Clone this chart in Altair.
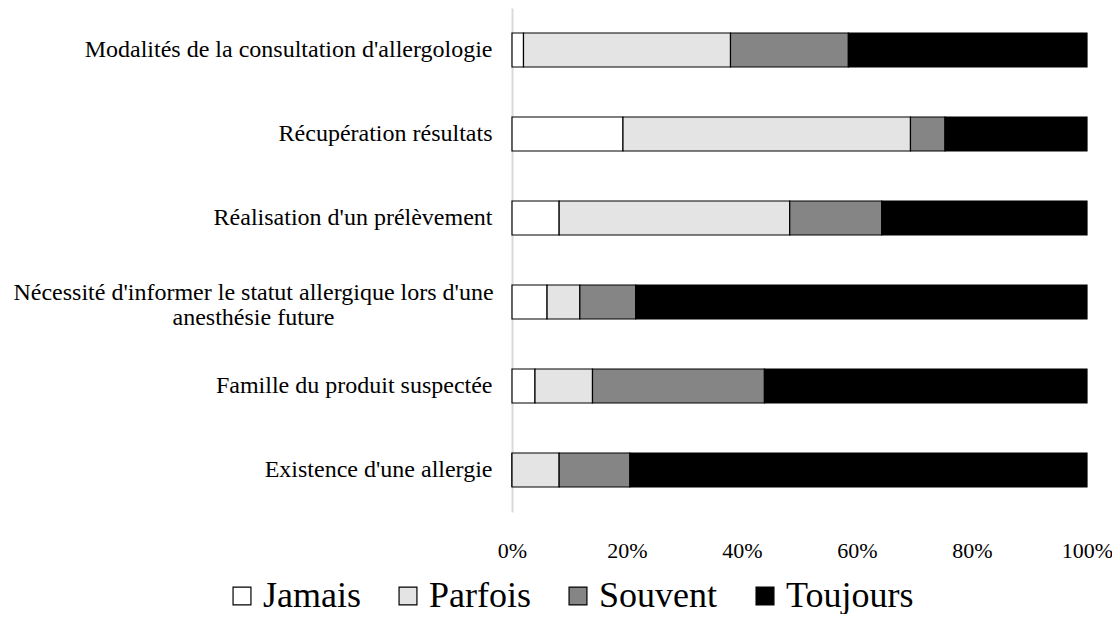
import altair as alt
import pandas as pd

categories = [
    "Modalités de la consultation d'allergologie",
    "Récupération résultats",
    "Réalisation d'un prélèvement",
    "Nécessité d'informer le statut allergique lors d'une|anesthésie future",
    "Famille du produit suspectée",
    "Existence d'une allergie",
]
series = ["Jamais", "Parfois", "Souvent", "Toujours"]
jamais = [2.0, 19.3, 8.2, 6.1, 4.0, 0.0]
parfois = [36.0, 50.0, 40.1, 5.7, 10.0, 8.2]
souvent = [20.5, 6.0, 16.0, 9.7, 29.9, 12.3]
toujours = [41.5, 24.7, 35.7, 78.5, 56.1, 79.5]
colors = ["#ffffff", "#e4e4e4", "#858585", "#000000"]

rows = []
for i, c in enumerate(categories):
    for k, (s, vals) in enumerate(zip(series, [jamais, parfois, souvent, toujours])):
        rows.append({"cat": c, "serie": s, "val": vals[i], "ord": k})
df = pd.DataFrame(rows)

font = "Liberation Serif"
multi = "indexof(datum.value, '|') >= 0"

chart = alt.Chart(df).mark_bar(size=34, stroke="black", strokeWidth=1.2).encode(
    x=alt.X("val:Q", stack="normalize",
            scale=alt.Scale(domain=[0, 1], nice=False),
            axis=alt.Axis(format="%", values=[0, 0.2, 0.4, 0.6, 0.8, 1.0], title=None,
                          grid=False, ticks=False, domain=False, labelPadding=28,
                          labelFlush=False,
                          labelFontSize=22, labelFont=font, labelColor="#000000")),
    y=alt.Y("cat:N", sort=categories, title=None,
            scale=alt.Scale(paddingInner=0, paddingOuter=0),
            axis=alt.Axis(labelExpr="split(datum.value, '|')", ticks=False, domain=True,
                          domainColor="#d9d9d9", domainWidth=2,
                          labelPadding={"condition": {"test": multi, "value": 259}, "value": 20},
                          labelAlign={"condition": {"test": multi, "value": "center"}, "value": "right"},
                          labelOffset={"condition": {"test": multi, "value": -9}, "value": 0},
                          labelFontSize=24, labelFont=font, labelColor="#000000",
                          labelLimit=600, labelLineHeight=25)),
    fill=alt.Fill("serie:N", sort=series,
                  scale=alt.Scale(domain=series, range=colors),
                  legend=alt.Legend(orient="none", legendX=-288, legendY=570, direction="horizontal",
                                    title=None, symbolType="square", symbolSize=320,
                                    symbolStrokeColor="black", symbolStrokeWidth=1.2,
                                    labelFontSize=36, labelFont=font, labelColor="#000000",
                                    columnPadding=29, labelOffset=3, labelLimit=300)),
    order=alt.Order("ord:Q"),
).properties(
    width=575, height=504,
    autosize=alt.AutoSizeParams(type="none"),
    padding={"left": 504, "top": 0, "right": 25, "bottom": 102},
).configure(font=font).configure_view(stroke=None)

chart.save("out.html", embed_options={"renderer": "svg", "actions": False})
